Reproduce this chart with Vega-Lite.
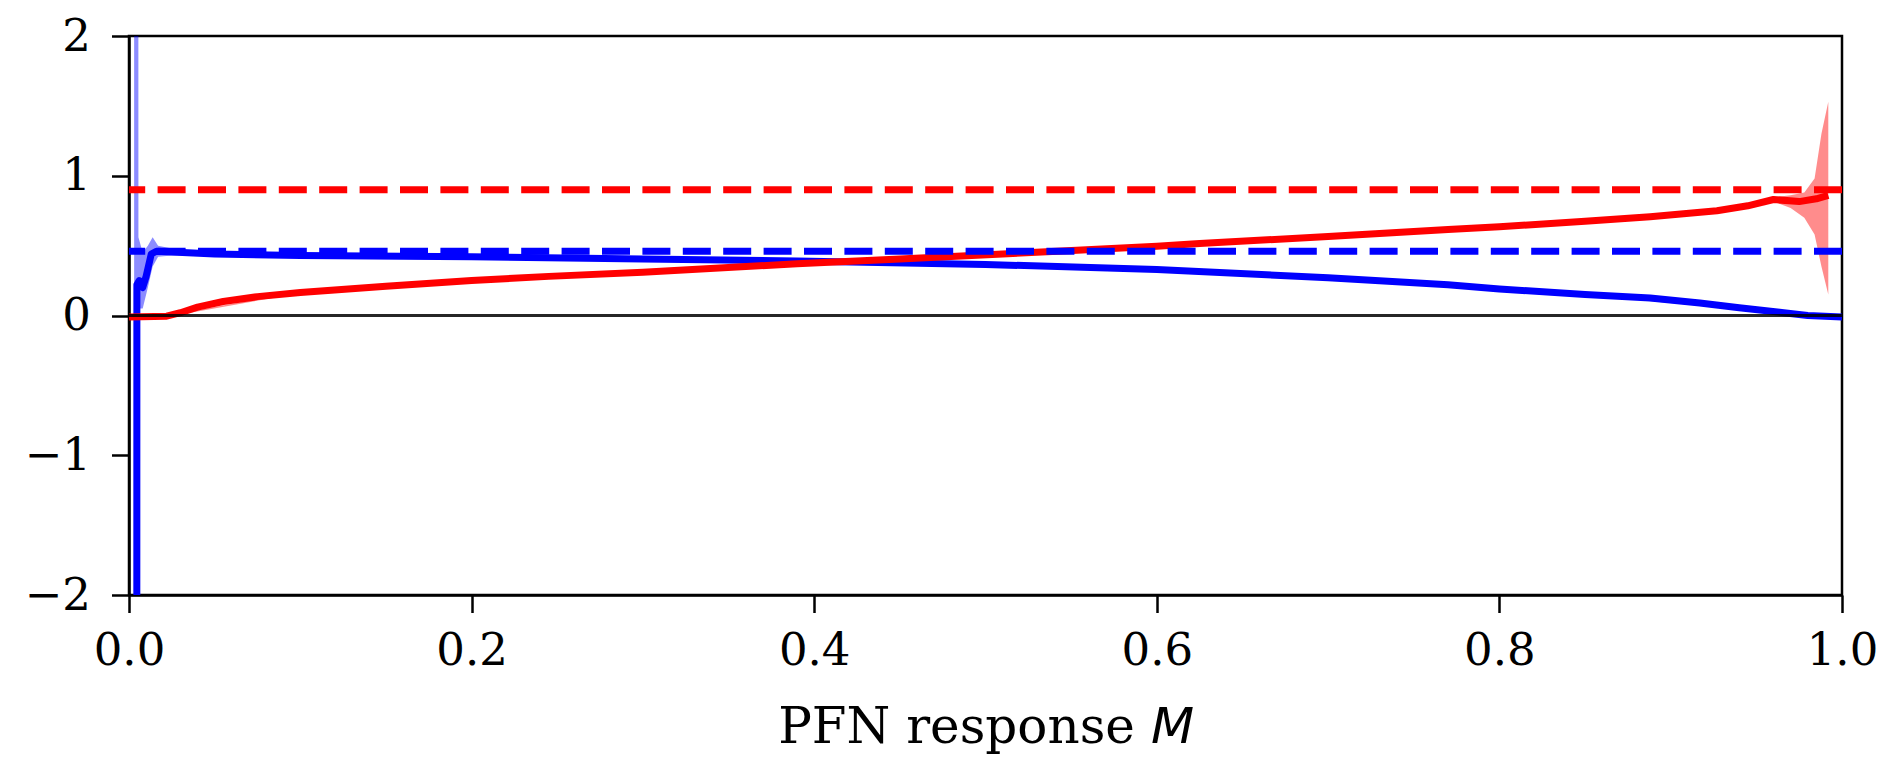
{
  "$schema": "https://vega.github.io/schema/vega-lite/v6.json",
  "width": 1713,
  "height": 559,
  "autosize": "none",
  "padding": {"left": 129, "top": 36, "right": 38, "bottom": 163},
  "background": "white",
  "config": {
    "view": {"stroke": "black", "strokeWidth": 2.5},
    "axis": {
      "labelFont": "DejaVu Serif",
      "labelFontSize": 45,
      "labelColor": "black",
      "titleFont": "DejaVu Serif",
      "titleFontSize": 50,
      "titleFontWeight": "normal",
      "titleColor": "black",
      "domainColor": "black",
      "domainWidth": 2.5,
      "tickColor": "black",
      "tickWidth": 2.5,
      "tickSize": 17.5,
      "grid": false
    }
  },
  "datasets": {
    "lines": [
      {"series": "blue", "M": 0.0040, "v": -40},
      {"series": "blue", "M": 0.0046, "v": 0.22},
      {"series": "blue", "M": 0.006, "v": 0.25},
      {"series": "blue", "M": 0.008, "v": 0.2},
      {"series": "blue", "M": 0.010, "v": 0.28},
      {"series": "blue", "M": 0.013, "v": 0.44},
      {"series": "blue", "M": 0.016, "v": 0.46},
      {"series": "blue", "M": 0.025, "v": 0.455},
      {"series": "blue", "M": 0.05, "v": 0.44},
      {"series": "blue", "M": 0.1, "v": 0.43},
      {"series": "blue", "M": 0.2, "v": 0.42},
      {"series": "blue", "M": 0.3, "v": 0.405},
      {"series": "blue", "M": 0.39, "v": 0.39},
      {"series": "blue", "M": 0.5, "v": 0.365},
      {"series": "blue", "M": 0.6, "v": 0.33},
      {"series": "blue", "M": 0.7, "v": 0.27},
      {"series": "blue", "M": 0.77, "v": 0.22},
      {"series": "blue", "M": 0.8, "v": 0.19},
      {"series": "blue", "M": 0.85, "v": 0.15},
      {"series": "blue", "M": 0.888, "v": 0.125},
      {"series": "blue", "M": 0.917, "v": 0.09},
      {"series": "blue", "M": 0.94, "v": 0.055},
      {"series": "blue", "M": 0.966, "v": 0.02},
      {"series": "blue", "M": 0.98, "v": 0.0},
      {"series": "blue", "M": 1.0, "v": -0.01},
      {"series": "red", "M": 0.0, "v": -0.01},
      {"series": "red", "M": 0.022, "v": -0.005},
      {"series": "red", "M": 0.03, "v": 0.02},
      {"series": "red", "M": 0.04, "v": 0.06},
      {"series": "red", "M": 0.055, "v": 0.1},
      {"series": "red", "M": 0.075, "v": 0.135},
      {"series": "red", "M": 0.1, "v": 0.165},
      {"series": "red", "M": 0.15, "v": 0.21},
      {"series": "red", "M": 0.2, "v": 0.25},
      {"series": "red", "M": 0.245, "v": 0.28},
      {"series": "red", "M": 0.3, "v": 0.31},
      {"series": "red", "M": 0.39, "v": 0.37},
      {"series": "red", "M": 0.45, "v": 0.405},
      {"series": "red", "M": 0.51, "v": 0.44},
      {"series": "red", "M": 0.6, "v": 0.495},
      {"series": "red", "M": 0.625, "v": 0.515},
      {"series": "red", "M": 0.7, "v": 0.565},
      {"series": "red", "M": 0.77, "v": 0.615},
      {"series": "red", "M": 0.8, "v": 0.635},
      {"series": "red", "M": 0.85, "v": 0.675},
      {"series": "red", "M": 0.888, "v": 0.707},
      {"series": "red", "M": 0.927, "v": 0.75},
      {"series": "red", "M": 0.945, "v": 0.785},
      {"series": "red", "M": 0.96, "v": 0.83},
      {"series": "red", "M": 0.975, "v": 0.815},
      {"series": "red", "M": 0.985, "v": 0.835},
      {"series": "red", "M": 0.992, "v": 0.86}
    ],
    "bands": [
      {"series": "blue", "M": 0.0030, "lo": -40, "hi": 40},
      {"series": "blue", "M": 0.0048, "lo": -40, "hi": 40},
      {"series": "blue", "M": 0.0055, "lo": 0.05, "hi": 0.56},
      {"series": "blue", "M": 0.008, "lo": 0.05, "hi": 0.45},
      {"series": "blue", "M": 0.011, "lo": 0.2, "hi": 0.5},
      {"series": "blue", "M": 0.0138, "lo": 0.35, "hi": 0.56},
      {"series": "blue", "M": 0.017, "lo": 0.42, "hi": 0.5},
      {"series": "blue", "M": 0.025, "lo": 0.43, "hi": 0.48},
      {"series": "blue", "M": 0.04, "lo": 0.43, "hi": 0.455},
      {"series": "blue", "M": 0.1, "lo": 0.425, "hi": 0.435},
      {"series": "blue", "M": 0.3, "lo": 0.4, "hi": 0.41},
      {"series": "blue", "M": 0.5, "lo": 0.36, "hi": 0.37},
      {"series": "blue", "M": 0.7, "lo": 0.265, "hi": 0.275},
      {"series": "blue", "M": 0.85, "lo": 0.145, "hi": 0.155},
      {"series": "blue", "M": 0.966, "lo": 0.015, "hi": 0.025},
      {"series": "blue", "M": 1.0, "lo": -0.015, "hi": -0.005},
      {"series": "red", "M": 0.0, "lo": -0.015, "hi": -0.005},
      {"series": "red", "M": 0.022, "lo": -0.01, "hi": 0.0},
      {"series": "red", "M": 0.1, "lo": 0.16, "hi": 0.17},
      {"series": "red", "M": 0.3, "lo": 0.305, "hi": 0.315},
      {"series": "red", "M": 0.6, "lo": 0.49, "hi": 0.5},
      {"series": "red", "M": 0.888, "lo": 0.7, "hi": 0.715},
      {"series": "red", "M": 0.945, "lo": 0.775, "hi": 0.795},
      {"series": "red", "M": 0.96, "lo": 0.815, "hi": 0.845},
      {"series": "red", "M": 0.97, "lo": 0.77, "hi": 0.86},
      {"series": "red", "M": 0.978, "lo": 0.7, "hi": 0.88},
      {"series": "red", "M": 0.984, "lo": 0.58, "hi": 0.98},
      {"series": "red", "M": 0.988, "lo": 0.35, "hi": 1.3},
      {"series": "red", "M": 0.992, "lo": 0.15, "hi": 1.53}
    ],
    "refs": [
      {"series": "red", "ref": 0.9},
      {"series": "blue", "ref": 0.46}
    ],
    "zero": [
      {"z": 0}
    ]
  },
  "layer": [
    {
      "data": {"name": "bands"},
      "mark": {"type": "area", "clip": true, "opacity": 0.45, "interpolate": "linear"},
      "encoding": {
        "x": {"field": "M", "type": "quantitative", "scale": {"domain": [0, 1], "nice": false, "zero": false},
          "axis": {"values": [0, 0.2, 0.4, 0.6, 0.8, 1.0], "format": ".1f", "labelPadding": 16, "title": "PFN response 𝘔", "titlePadding": 29, "labelFlush": false}},
        "y": {"field": "lo", "type": "quantitative", "scale": {"domain": [-2, 2], "nice": false, "zero": false},
          "axis": {"values": [-2, -1, 0, 1, 2], "format": "d", "labelPadding": 21, "title": null}},
        "y2": {"field": "hi"},
        "color": {"field": "series", "type": "nominal", "scale": {"domain": ["blue", "red"], "range": ["#0000ff", "#ff0000"]}, "legend": null},
        "detail": {"field": "series"}
      }
    },
    {
      "data": {"name": "lines"},
      "mark": {"type": "line", "clip": true, "strokeWidth": 7, "strokeJoin": "round"},
      "encoding": {
        "x": {"field": "M", "type": "quantitative"},
        "y": {"field": "v", "type": "quantitative"},
        "color": {"field": "series", "type": "nominal", "legend": null}
      }
    },
    {
      "data": {"name": "refs"},
      "mark": {"type": "rule", "strokeWidth": 7, "strokeDash": [28, 12.4]},
      "encoding": {
        "y": {"field": "ref", "type": "quantitative"},
        "color": {"field": "series", "type": "nominal", "legend": null}
      }
    },
    {
      "data": {"name": "zero"},
      "mark": {"type": "rule", "strokeWidth": 3, "color": "black", "opacity": 0.85},
      "encoding": {
        "y": {"field": "z", "type": "quantitative"}
      }
    }
  ]
}
